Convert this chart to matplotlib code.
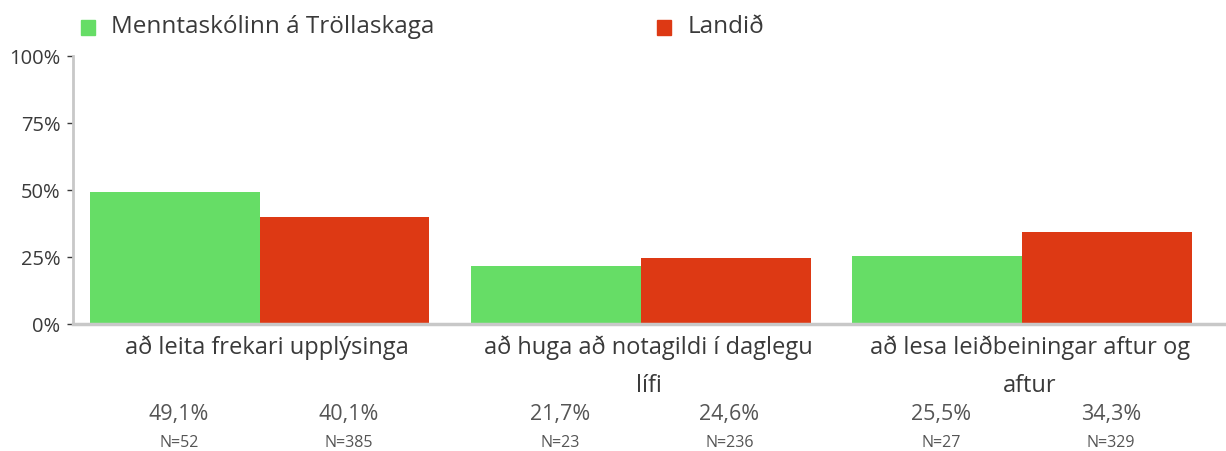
import matplotlib
matplotlib.use("Agg")
import matplotlib.pyplot as plt
import numpy as np

categories = ["að leita frekari upplýsinga",
              "að huga að notagildi í daglegu\nlífi",
              "að lesa leiðbeiningar aftur og\naftur"]
series_names = ["Menntaskólinn á Tröllaskaga", "Landið"]
school_pct = [49.1, 21.7, 25.5]
country_pct = [40.1, 24.6, 34.3]
school_n = [52, 23, 27]
country_n = [385, 236, 329]
ytick_vals = [0, 25, 50, 75, 100]
ytick_labels = ["0%", "25%", "50%", "75%", "100%"]

GREEN = "#66dd66"
RED = "#dd3914"
TXT = "#3a3a3a"
SUB = "#555555"

plt.rcParams["font.family"] = ["Open Sans", "DejaVu Sans"]

fig = plt.figure(figsize=(12.26, 4.52), dpi=100)
ax = fig.add_axes([0.0595, 0.281, 0.9405, 0.593])

x = np.arange(len(categories))
w = 0.445
off = w / 2
ax.bar(x - off, school_pct, width=w, color=GREEN, zorder=2)
ax.bar(x + off, country_pct, width=w, color=RED, zorder=2)

ax.set_xlim(-0.49, 2.535)
ax.set_ylim(0, 100)
ax.set_yticks(ytick_vals)
ax.set_yticklabels(ytick_labels, fontsize=14.5, color=TXT)
ax.tick_params(axis="y", length=4, width=1, color=TXT, pad=5, direction="out")
ax.set_xticks([])

for s in ["top", "right"]:
    ax.spines[s].set_visible(False)
ax.spines["left"].set_color("#c8c8c8")
ax.spines["left"].set_linewidth(2)
ax.spines["bottom"].set_color("#c8c8c8")
ax.spines["bottom"].set_linewidth(2.5)

# category labels, percentage values and sample sizes under the axis
trans = ax.get_xaxis_transform()
for i, cat in enumerate(categories):
    ax.text(x[i] + 0.02, -0.04, cat, transform=trans, ha="center", va="top",
            fontsize=17, color=TXT, linespacing=1.75)
    for xpos, pct, n in ((x[i] - off, school_pct[i], school_n[i]),
                         (x[i] + off, country_pct[i], country_n[i])):
        ax.text(xpos + 0.01, -0.333, f"{pct:.1f}%".replace(".", ","),
                transform=trans, ha="center", va="center",
                fontsize=15.5, color=SUB)
        ax.text(xpos + 0.01, -0.44, f"N={n}", transform=trans,
                ha="center", va="center", fontsize=11.5, color=SUB)

# legend
for (xf, col, name) in ((0.066, GREEN, series_names[0]),
                        (0.536, RED, series_names[1])):
    fig.patches.append(plt.Rectangle((xf, 0.921), 0.0115, 0.033,
                                     transform=fig.transFigure,
                                     color=col, figure=fig))
    fig.text(xf + 0.0245, 0.94, name, ha="left", va="center",
             fontsize=17.5, color=TXT)

fig.savefig("out.png", dpi=100)
